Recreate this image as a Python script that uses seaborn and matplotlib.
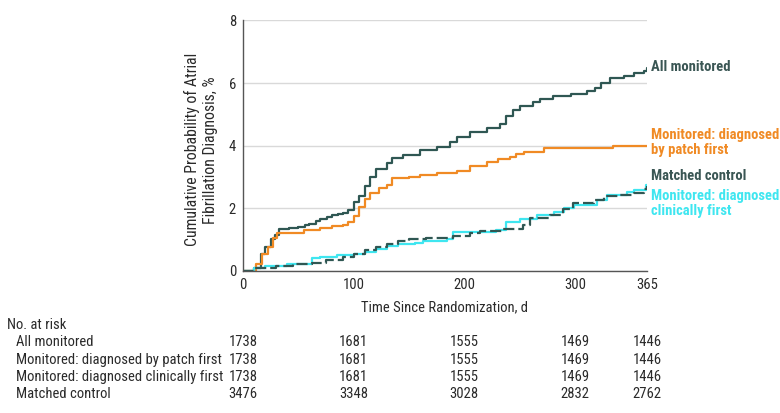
import matplotlib
matplotlib.use('Agg')
import matplotlib.pyplot as plt
import matplotlib.transforms as mtransforms
import pandas as pd
import seaborn as sns
from matplotlib import font_manager

# Step points (day, cumulative %)
days_all = [0, 10, 16, 20, 25, 29, 33, 42, 50, 56, 60, 66, 70, 76, 80, 86, 90, 95, 100, 105, 110, 115,
            120, 130, 135, 145, 160, 175, 187, 193, 205, 220, 232, 238, 244, 250, 262, 268, 280, 296,
            311, 318, 323, 332, 344, 353, 362, 365]
vals_all = [0, 0.1, 0.55, 0.75, 1.0, 1.15, 1.32, 1.36, 1.4, 1.45, 1.5, 1.58, 1.65, 1.72, 1.78, 1.82,
            1.85, 1.95, 2.2, 2.4, 2.7, 3.0, 3.25, 3.45, 3.6, 3.7, 3.85, 3.97, 4.13, 4.29, 4.45, 4.55,
            4.7, 4.93, 5.14, 5.25, 5.4, 5.48, 5.59, 5.64, 5.73, 5.83, 6.0, 6.15, 6.23, 6.31, 6.37, 6.47]

days_patch = [0, 10, 12, 17, 23, 27, 31, 50, 55, 70, 80, 90, 95, 100, 105, 110, 115, 123, 130, 135,
              150, 160, 175, 193, 205, 220, 230, 241, 247, 254, 272, 334, 365]
vals_patch = [0, 0, 0.2, 0.55, 0.75, 1.05, 1.2, 1.2, 1.3, 1.37, 1.42, 1.45, 1.55, 1.75, 2.05, 2.3, 2.5,
              2.65, 2.75, 2.95, 3.0, 3.05, 3.11, 3.2, 3.36, 3.46, 3.56, 3.65, 3.73, 3.81, 3.91, 3.98, 3.98]

days_clin = [0, 10, 20, 40, 62, 70, 85, 100, 110, 120, 130, 140, 155, 163, 184, 190, 229, 238, 250,
             266, 281, 290, 299, 320, 329, 347, 353, 364, 365]
vals_clin = [0, 0.1, 0.15, 0.22, 0.4, 0.45, 0.5, 0.55, 0.6, 0.7, 0.8, 0.85, 0.9, 0.95, 1.0, 1.25, 1.3,
             1.57, 1.64, 1.78, 1.89, 2.0, 2.1, 2.26, 2.42, 2.53, 2.58, 2.74, 2.74]

days_ctrl = [0, 10, 30, 45, 62, 75, 90, 100, 110, 120, 130, 140, 150, 165, 190, 205, 214, 235, 253,
             259, 277, 289, 298, 317, 326, 341, 353, 362, 365]
vals_ctrl = [0, 0.1, 0.15, 0.2, 0.25, 0.35, 0.45, 0.55, 0.65, 0.75, 0.85, 0.95, 1.0, 1.04, 1.11, 1.2,
             1.28, 1.32, 1.46, 1.68, 1.78, 1.96, 2.16, 2.26, 2.39, 2.42, 2.47, 2.6, 2.7]

# Number at risk table
risk_days = [0, 100, 200, 300, 365]
risk_labels = ['All monitored', 'Monitored: diagnosed by patch first',
               'Monitored: diagnosed clinically first', 'Matched control']
risk_all = [1738, 1681, 1555, 1469, 1446]
risk_patch = [1738, 1681, 1555, 1469, 1446]
risk_clin = [1738, 1681, 1555, 1469, 1446]
risk_ctrl = [3476, 3348, 3028, 2832, 2762]

dark = '#2f5753'
orange = '#f08a24'
cyan = '#3fe6f0'
txt = '#2a2a2a'

sns.set_style('white')
names = set(f.name for f in font_manager.fontManager.ttflist)
fam = 'DejaVu Sans'
for cand in ['Roboto Condensed', 'Liberation Sans Narrow', 'Open Sans Condensed']:
    if cand in names:
        fam = cand
        break
plt.rcParams['font.family'] = [fam, 'DejaVu Sans']
plt.rcParams['font.stretch'] = 'condensed'

fig = plt.figure(figsize=(7.8, 4.13), dpi=100)
ax = fig.add_axes([0.3115, 0.3445, 0.518, 0.606])

curves = [
    (days_all, vals_all, dark, '-'),
    (days_patch, vals_patch, orange, '-'),
    (days_clin, vals_clin, cyan, '-'),
    (days_ctrl, vals_ctrl, dark, '--'),
]
for d, v, c, ls in curves:
    df = pd.DataFrame({'day': d, 'pct': v})
    line = sns.lineplot(data=df, x='day', y='pct', ax=ax, color=c, linestyle=ls, linewidth=1.6,
                        drawstyle='steps-post', sort=False, estimator=None)
ax.lines[-1].set_dashes([5, 1.8])

ax.set_xlim(0, 365)
ax.set_ylim(0, 8)
ax.set_xticks([0, 100, 200, 300, 365])
ax.set_yticks([0, 2, 4, 6, 8])
ax.yaxis.grid(True, color='#d9d9d9', linewidth=1)
ax.xaxis.grid(False)
for s in ['top', 'right']:
    ax.spines[s].set_visible(False)
for s in ['left', 'bottom']:
    ax.spines[s].set_color('#555555')
    ax.spines[s].set_linewidth(1)
ax.tick_params(axis='both', direction='out', length=4, width=1, color='#555555',
               labelsize=10.5, labelcolor=txt, pad=1)
ax.set_xlabel('Time Since Randomization, d', fontsize=10.5, color=txt, labelpad=6)
ax.set_ylabel('Cumulative Probability of Atrial\nFibrillation Diagnosis, %', fontsize=11.3,
              color=txt, labelpad=8)
ax.yaxis.label.set_y(0.483)

# End-of-curve labels
lab_kw = dict(fontsize=10.5, fontweight='semibold', va='center', ha='left', clip_on=False,
              linespacing=1.15)
ax.text(369, 6.52, 'All monitored', color='#3a5654', **lab_kw)
ax.text(369, 4.1, 'Monitored: diagnosed\nby patch first', color=orange, **lab_kw)
ax.text(369, 3.03, 'Matched control', color='#3a5654', **lab_kw)
ax.text(369, 2.15, 'Monitored: diagnosed\nclinically first', color=cyan, **lab_kw)

# At-risk table under the axis
trans = mtransforms.blended_transform_factory(ax.transData, ax.transAxes)
ftrans = mtransforms.blended_transform_factory(fig.transFigure, ax.transAxes)
ax.text(0.009, -0.217, 'No. at risk', transform=ftrans, fontsize=10.5, color=txt, va='center')
row_y = [-0.286, -0.357, -0.426, -0.494]
for lab, yy, counts in zip(risk_labels, row_y, [risk_all, risk_patch, risk_clin, risk_ctrl]):
    ax.text(0.02, yy, lab, transform=ftrans, fontsize=10.5, color=txt, va='center')
    for dd, n in zip(risk_days, counts):
        ax.text(dd, yy, str(n), transform=trans, fontsize=10.5, color=txt,
                va='center', ha='center')

fig.savefig('out.png', dpi=100)
